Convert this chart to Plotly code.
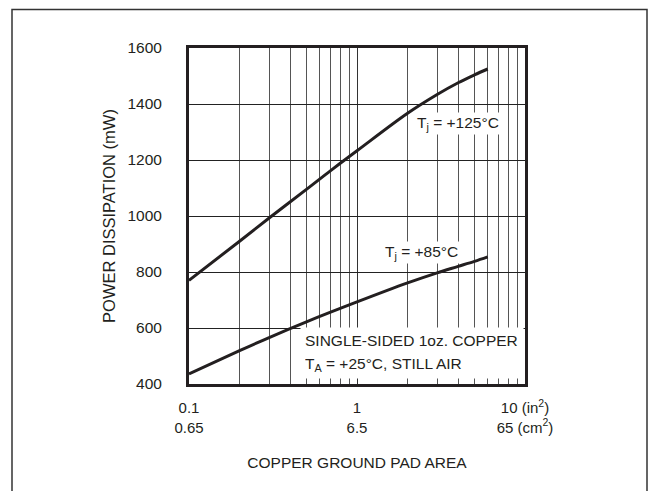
import plotly.graph_objects as go

# Data (x in in^2, y in mW)
area_125 = [0.1, 0.2, 0.3, 0.5, 0.7, 1, 2, 3, 4, 5, 6]
pd_125 = [770, 910, 993, 1095, 1163, 1233, 1367, 1434, 1476, 1504, 1525]
area_85 = [0.1, 0.2, 0.3, 0.5, 1, 2, 3, 4, 5, 6]
pd_85 = [436, 519, 566, 622, 693, 761, 797, 820, 838, 854]

x_tickvals = [0.1, 1, 10]
x_ticktext = ["0.1<br>0.65", "1<br>6.5", "10 (in<sup>2</sup>)<br>65 (cm<sup>2</sup>)"]
x_minor = [0.2, 0.3, 0.4, 0.5, 0.6, 0.7, 0.8, 0.9, 2, 3, 4, 5, 6, 7, 8, 9]
y_tickvals = [400, 600, 800, 1000, 1200, 1400, 1600]

FONT = "Liberation Sans, Arial, sans-serif"
INK = "#231f20"

# the page body has an 8px margin on every side; keep the figure inside the window
OFF = 8
W, H = 656 - 2 * OFF, 499 - 2 * OFF
PL, PR, PT, PB = 189, 525, 48, 384   # plot area in page pixels

def px(xp):
    return (xp - PL) / (PR - PL)

def py(yp):
    return (PB - yp) / (PB - PT)

fig = go.Figure()
fig.add_trace(go.Scatter(x=area_125, y=pd_125, mode="lines",
                         line=dict(color=INK, width=3, shape="spline", smoothing=1.0),
                         showlegend=False, hoverinfo="skip"))
fig.add_trace(go.Scatter(x=area_85, y=pd_85, mode="lines",
                         line=dict(color=INK, width=3, shape="spline", smoothing=1.0),
                         showlegend=False, hoverinfo="skip"))

note_box = dict(xref="paper", yref="paper", xanchor="left", yanchor="middle",
                showarrow=False, bgcolor="white", borderpad=4, width=214, height=17.5,
                align="left", valign="middle")

fig.update_layout(
    width=W, height=H,
    margin=dict(l=PL - OFF, r=W - (PR - OFF), t=PT - OFF, b=H - (PB - OFF)),
    paper_bgcolor="white", plot_bgcolor="white",
    font=dict(family=FONT, size=15.5, color=INK),
    xaxis=dict(
        type="log", range=[-1, 1],
        tickvals=x_tickvals, ticktext=x_ticktext,
        tickfont=dict(size=15),
        ticks="", ticklabelstandoff=8,
        showgrid=True, gridcolor="#333333", gridwidth=1,
        minor=dict(tickvals=x_minor, showgrid=True, gridcolor="#555555", gridwidth=1, ticks=""),
        showline=True, linecolor=INK, linewidth=3, mirror=True,
        zeroline=False,
        title=dict(text="COPPER GROUND PAD AREA", font=dict(size=15.5), standoff=23),
    ),
    yaxis=dict(
        range=[400, 1600], tickvals=y_tickvals,
        tickfont=dict(size=15.5),
        ticks="", ticklabelstandoff=21,
        showgrid=True, gridcolor="#222222", gridwidth=1,
        showline=True, linecolor=INK, linewidth=3, mirror=True,
        zeroline=False,
        title=dict(text="POWER DISSIPATION (mW)", font=dict(size=16.5), standoff=8),
    ),
    shapes=[
        # outer frame
        dict(type="rect", xref="paper", yref="paper",
             x0=px(12), x1=px(647), y0=py(540), y1=py(9.5),
             line=dict(color="#333333", width=1.5), fillcolor="rgba(0,0,0,0)", layer="below"),
    ],
    annotations=[
        dict(xref="paper", yref="paper", x=px(457.5), y=py(123), xanchor="center", yanchor="middle",
             showarrow=False, text="T<sub>j</sub> = +125°C", bgcolor="white", borderpad=1),
        dict(xref="paper", yref="paper", x=px(421.5), y=py(252.5), xanchor="center", yanchor="middle",
             showarrow=False, text="T<sub>j</sub> = +85°C", bgcolor="white", borderpad=1),
        dict(note_box, x=px(300), y=py(340.5), text="SINGLE-SIDED 1oz. COPPER"),
        dict(note_box, x=px(300), y=py(365), text="T<sub>A</sub> = +25°C, STILL AIR"),
    ],
)

fig.write_html("out.html")
